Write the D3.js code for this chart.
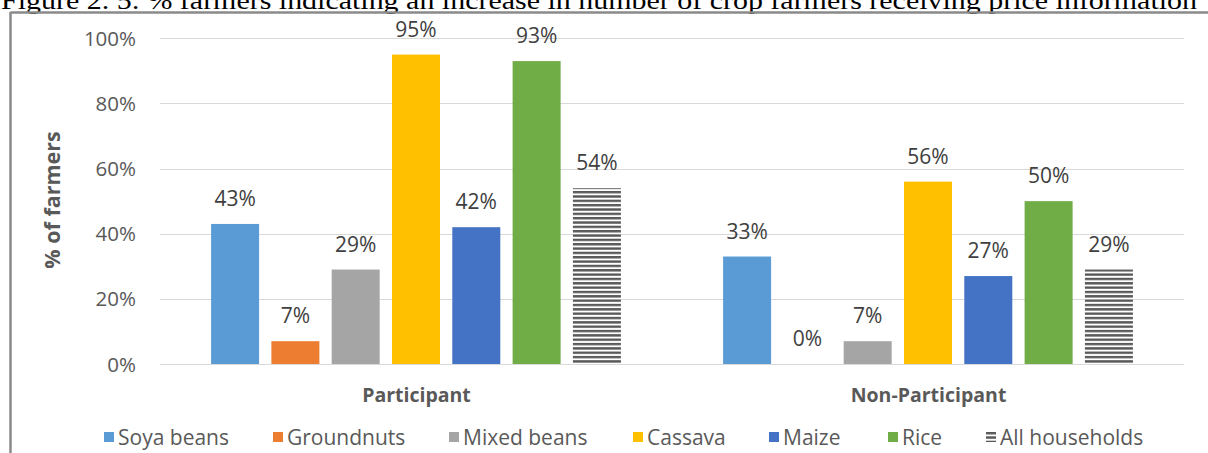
<!DOCTYPE html>
<html><head><meta charset="utf-8">
<script src="https://cdn.jsdelivr.net/npm/d3@7"></script>
<style>body{margin:0;background:#fff;overflow:hidden}svg{display:block}</style>
</head><body>
<svg id="chart" width="1208" height="453"></svg>
<script>
const caption = "Figure 2. 5: % farmers indicating an increase in number of crop farmers receiving price information";
const groups = ["Participant", "Non-Participant"];
const series = ["Soya beans", "Groundnuts", "Mixed beans", "Cassava", "Maize", "Rice", "All households"];
const participant = [43, 7, 29, 95, 42, 93, 54];
const nonParticipant = [33, 0, 7, 56, 27, 50, 29];
const yTicks = [0, 20, 40, 60, 80, 100];
const colors = ["#5B9BD5", "#ED7D31", "#A5A5A5", "#FFC000", "#4472C4", "#70AD47", "url(#hatch)"];

const values = [participant, nonParticipant];
const svg = d3.select("#chart");
const font = "'Open Sans', Lato, sans-serif";

// pattern
const defs = svg.append("defs");
const pat = defs.append("pattern").attr("id", "hatch").attr("patternUnits", "userSpaceOnUse")
  .attr("width", 8).attr("height", 4.34);
pat.append("rect").attr("width", 8).attr("height", 4.34).attr("fill", "#fff");
pat.append("rect").attr("y", 0).attr("width", 8).attr("height", 2.4).attr("fill", "#595959");

// caption (clipped at top, as in the source)
const cap = svg.append("text").attr("x", 1).attr("y", 9)
  .attr("font-family", "'Liberation Serif', 'Times New Roman', serif")
  .attr("font-size", 25).attr("fill", "#000").text(caption);
cap.attr("textLength", 1196).attr("lengthAdjust", "spacingAndGlyphs");

// frame
svg.append("line").attr("x1", 10.5).attr("x2", 1208).attr("y1", 12.5).attr("y2", 12.5)
  .attr("stroke", "#8a8a8a").attr("stroke-width", 2.5);
svg.append("line").attr("x1", 10.5).attr("x2", 10.5).attr("y1", 12).attr("y2", 453)
  .attr("stroke", "#8a8a8a").attr("stroke-width", 2.5);

const y = d3.scaleLinear().domain([0, 100]).range([364, 38.3]);
const x0 = d3.scaleBand().domain(groups).range([160, 1184]).padding(0);
const x1 = d3.scaleBand().domain(series).range([0, x0.bandwidth()]).paddingInner(0.204).paddingOuter(0.847);

// gridlines
svg.append("g").selectAll("line").data(yTicks).join("line")
  .attr("x1", 160).attr("x2", 1184)
  .attr("y1", d => Math.round(y(d)) + 0.5).attr("y2", d => Math.round(y(d)) + 0.5)
  .attr("stroke", "#D9D9D9").attr("stroke-width", 1);

// y tick labels
svg.append("g").selectAll("text").data(yTicks).join("text")
  .attr("x", 136).attr("y", d => y(d) + 7.5).attr("text-anchor", "end")
  .attr("font-family", font).attr("font-size", 20.5).attr("fill", "#595959")
  .text(d => d + "%");

// axis title
svg.append("text").attr("transform", "translate(60,200) rotate(-90)")
  .attr("text-anchor", "middle").attr("font-family", font).attr("font-size", 21.5)
  .attr("font-weight", "bold").attr("fill", "#595959").text("% of farmers");

// bars
const gG = svg.append("g").selectAll("g").data(groups).join("g")
  .attr("transform", d => `translate(${x0(d)},0)`);
gG.selectAll("rect").data((g, gi) => series.map((s, i) => ({s, i, v: values[gi][i]}))).join("rect")
  .attr("x", d => x1(d.s)).attr("width", x1.bandwidth())
  .attr("y", d => y(d.v)).attr("height", d => y(0) - y(d.v))
  .attr("fill", d => colors[d.i]);
gG.selectAll("text").data((g, gi) => series.map((s, i) => ({s, i, v: values[gi][i]}))).join("text")
  .attr("x", d => x1(d.s) + x1.bandwidth() / 2).attr("y", d => y(d.v) - 18)
  .attr("text-anchor", "middle").attr("font-family", font).attr("font-size", 21)
  .attr("fill", "#404040").text(d => d.v + "%");

// category labels
svg.append("g").selectAll("text").data(groups).join("text")
  .attr("x", d => x0(d) + x0.bandwidth() / 2 + 0.5).attr("y", 402)
  .attr("text-anchor", "middle").attr("font-family", font).attr("font-size", 19.5)
  .attr("font-weight", "bold").attr("fill", "#595959").text(d => d);

// legend
const legX = [104, 273, 449, 633, 769, 888, 986];
const lg = svg.append("g").selectAll("g").data(series).join("g")
  .attr("transform", (d, i) => `translate(${legX[i]},432)`);
lg.append("rect").attr("width", 10).attr("height", 10).attr("fill", (d, i) => colors[i]);
lg.append("text").attr("x", 14).attr("y", 12.5).attr("font-family", font).attr("font-size", 21)
  .attr("fill", "#595959").text(d => d);
</script>
</body></html>
